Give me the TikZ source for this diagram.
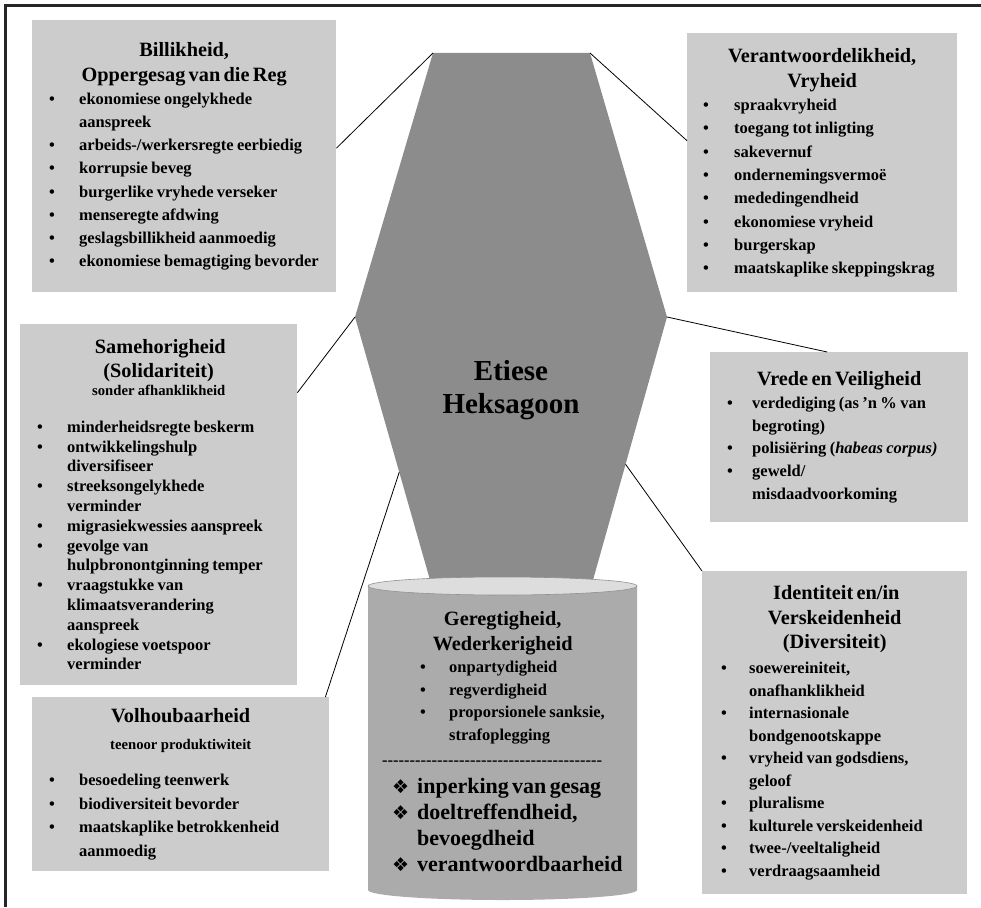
\documentclass[tikz,border=0pt]{standalone}
\usepackage{fontspec}
\setmainfont{Liberation Serif}
\newfontfamily\symfont{DejaVu Sans}
\usetikzlibrary{calc}
\definecolor{vakgrys}{HTML}{CCCCCC}
\definecolor{hekgrys}{HTML}{8C8C8C}
\definecolor{silgrys}{HTML}{ABABAB}
\definecolor{deksel}{HTML}{DDDDDD}
\definecolor{raam}{HTML}{262626}

\newcommand{\kop}[1][25]{\fontsize{20.3}{#1}\selectfont}
\newcommand{\punt}[1][23]{\fontsize{16.5}{#1}\selectfont}
\newcommand{\onder}[1][18]{\fontsize{14.7}{#1}\selectfont}

\newenvironment{punte}[3][\textbullet]{%
  \begin{list}{#1}{%
    \setlength{\leftmargin}{#3}%
    \setlength{\labelwidth}{20pt}%
    \setlength{\labelsep}{\dimexpr #3-#2-20pt\relax}%
    \setlength{\itemsep}{0pt}\setlength{\parsep}{0pt}%
    \setlength{\topsep}{0pt}\setlength{\partopsep}{0pt}%
    \renewcommand{\makelabel}[1]{##1\hfil}}}%
  {\end{list}}

\tikzset{
  deugvak/.style={fill=vakgrys, anchor=north west, inner sep=0pt,
    align=left, font=\bfseries, text width=#1},
  silvak/.style={anchor=north west, inner sep=0pt, align=left,
    font=\bfseries, text width=#1},
  lyn/.style={draw=black, line width=0.8pt}
}

\begin{document}
\begin{tikzpicture}[x=1pt, y=-1pt]
\useasboundingbox (0,0) rectangle (981,907);
\draw[raam, line width=3pt] (981,6) -- (5,6) -- (5,907);

% heksagoon
\coordinate (h1) at (433,53);
\coordinate (h2) at (590,53);
\coordinate (h3) at (667,317);
\coordinate (h4) at (593,580);
\coordinate (h5) at (430,580);
\coordinate (h6) at (355,317);
\fill[hekgrys] (h1) -- (h2) -- (h3) -- (h4) -- (h5) -- (h6) -- cycle;
\node[font={\bfseries\fontsize{29}{33}\selectfont}, align=center] (etiese) at (511,390) {Etiese\\ Heksagoon};

% silinder
\fill[silgrys] (368,586) -- (368,890) arc[start angle=180, end angle=0, x radius=134.5, y radius=10] -- (637,586) -- cycle;
\filldraw[fill=deksel, draw=silgrys!85!black, line width=0.6pt] (502.5,586) ellipse[x radius=134.5, y radius=9];

\node[silvak=269pt] (geregtig) at (368,611) {%
  {\centering\kop Geregtigheid,\\ Wederkerigheid\par}
  \punt[22.5]
  \begin{punte}{52pt}{81pt}
  \item onpartydigheid
  \item regverdigheid
  \item proporsionele sanksie,\\ strafoplegging
  \end{punte}
  \vspace{3pt}
  \hspace*{14pt}\hbox to 220pt{\xleaders\hbox{-}\hfill}\par
  \vspace{2pt}
  {\fontsize{22}{26}\selectfont
  \begin{punte}[{\symfont\fontsize{19}{19}\selectfont ❖}]{24pt}{49pt}
  \item inperking van gesag
  \item doeltreffendheid,\\ bevoegdheid
  \item verantwoordbaarheid
  \end{punte}}};

\node[deugvak=304pt, minimum height=272pt] (billik) at (32,20) {%
  {\centering\kop Billikheid,\\ Oppergesag van die Reg\par}
  \punt[23.2]
  \begin{punte}{17pt}{47pt}
  \item ekonomiese ongelykhede\\ aanspreek
  \item arbeids-/werkersregte eerbiedig
  \item korrupsie beveg
  \item burgerlike vryhede verseker
  \item menseregte afdwing
  \item geslagsbillikheid aanmoedig
  \item ekonomiese bemagtiging bevorder
  \end{punte}};

\node[deugvak=270pt, minimum height=259pt] (verant) at (687,33) {%
  {\centering\kop Verantwoordelikheid,\\ Vryheid\par}
  \punt[23.3]
  \begin{punte}{16pt}{47pt}
  \item spraakvryheid
  \item toegang tot inligting
  \item sakevernuf
  \item ondernemingsvermoë
  \item mededingendheid
  \item ekonomiese vryheid
  \item burgerskap
  \item maatskaplike skeppingskrag
  \end{punte}};

\node[deugvak=277pt, minimum height=361pt] (samehorig) at (20,324) {%
  {\centering\kop[24] Samehorigheid\\ (Solidariteit)\par}
  {\centering\onder sonder afhanklikheid\par}
  \vspace{17.2pt}
  \punt[19.8]
  \begin{punte}{17pt}{47pt}
  \item minderheidsregte beskerm
  \item ontwikkelingshulp\\ diversifiseer
  \item streeksongelykhede\\ verminder
  \item migrasiekwessies aanspreek
  \item gevolge van\\ hulpbronontginning temper
  \item vraagstukke van\\ klimaatsverandering\\ aanspreek
  \item ekologiese voetspoor\\ verminder
  \end{punte}};

\node[deugvak=258pt, minimum height=170pt] (vrede) at (710,352) {%
  {\centering\kop Vrede en Veiligheid\par}
  \punt[22.7]
  \begin{punte}{17pt}{42pt}
  \item verdediging (as ’n \% van\\ begroting)
  \item polisiëring (\textit{habeas corpus)}
  \item geweld/\\ misdaadvoorkoming
  \end{punte}};

\node[deugvak=265pt, minimum height=323pt] (identiteit) at (702,571) {%
  {\centering\kop[24.5] Identiteit en/in\\ Verskeidenheid\\ (Diversiteit)\par}
  \vspace{2.5pt}
  \punt[22.5]
  \begin{punte}{19pt}{47pt}
  \item soewereiniteit,\\ onafhanklikheid
  \item internasionale\\ bondgenootskappe
  \item vryheid van godsdiens,\\ geloof
  \item pluralisme
  \item kulturele verskeidenheid
  \item twee-/veeltaligheid
  \item verdraagsaamheid
  \end{punte}};

\node[deugvak=297pt, minimum height=174pt] (volhou) at (32,697) {%
  {\centering\kop Volhoubaarheid\par}
  {\centering\onder[27] teenoor produktiwiteit\par}
  \vspace{12.5pt}
  \punt[23.5]
  \begin{punte}{17pt}{47pt}
  \item besoedeling teenwerk
  \item biodiversiteit bevorder
  \item maatskaplike betrokkenheid\\ aanmoedig
  \end{punte}};

% verbindings
\coordinate (hr) at ($(h3)!0.56!(h4)$);
\coordinate (hl) at ($(h6)!0.59!(h5)$);
\draw[lyn] ($(billik.east)+(0,-8)$) -- (h1);
\draw[lyn] (h2) -- ($(verant.west)+(0,-22)$);
\draw[lyn] (h6) -- ($(samehorig.north east)!0.19!(samehorig.south east)$);
\draw[lyn] (h3) -- ($(vrede.north)+(-12,0)$);
\draw[lyn] (hr) -- (identiteit.north west);
\draw[lyn] (hl) -- ($(volhou.north east)+(-4,0)$);
\end{tikzpicture}
\end{document}
